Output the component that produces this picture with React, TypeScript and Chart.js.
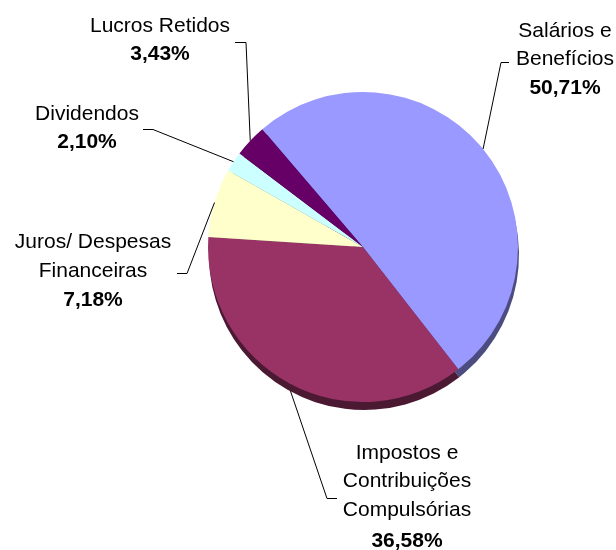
import React, { useEffect, useRef } from "react";
import { Chart, registerables } from "chart.js";

Chart.register(...registerables);

// ---- data ----
const categories = [
  "Salários e Benefícios",
  "Impostos e Contribuições Compulsórias",
  "Juros/ Despesas Financeiras",
  "Dividendos",
  "Lucros Retidos",
];
const values = [50.71, 36.58, 7.18, 2.1, 3.43];
const labelLines = [
  ["Salários e", "Benefícios"],
  ["Impostos e", "Contribuições", "Compulsórias"],
  ["Juros/ Despesas", "Financeiras"],
  ["Dividendos"],
  ["Lucros Retidos"],
];

// ---- styles ----
const faceColors = ["#9999FF", "#993366", "#FFFFCC", "#CCFFFF", "#660066"];
const sideColors = ["#4C4C80", "#4C1933", "#808066", "#668080", "#330033"];
const DEPTH_X = 1;
const DEPTH_Y = 8;
const FONT = "'Liberation Sans', Arial, sans-serif";
const FONT_SIZE = 21;

// label layout: text centre x, baselines of name lines, baseline of percent, leader elbow and tick end
const labelLayout = [
  { cx: 565, lines: [37, 65], pct: 94, elbow: [501, 62], tick: [509, 62] },
  { cx: 407, lines: [459, 487, 516], pct: 547, elbow: [327, 498], tick: [337, 498] },
  { cx: 93, lines: [248, 277], pct: 306, elbow: [187, 273], tick: [177, 273] },
  { cx: 87, lines: [120], pct: 148, elbow: [153, 129], tick: [143, 129] },
  { cx: 160, lines: [32], pct: 60, elbow: [246, 42], tick: [235, 42] },
];

const fmtPct = (v: number) => v.toFixed(2).replace(".", ",") + "%";

const depthPlugin = {
  id: "depth3d",
  beforeDatasetsDraw(chart: any) {
    const ctx = chart.ctx;
    const meta = chart.getDatasetMeta(0);
    ctx.save();
    meta.data.forEach((arc: any, i: number) => {
      const p = arc.getProps(["x", "y", "startAngle", "endAngle", "outerRadius"], true);
      ctx.beginPath();
      ctx.moveTo(p.x + DEPTH_X, p.y + DEPTH_Y);
      ctx.arc(p.x + DEPTH_X, p.y + DEPTH_Y, p.outerRadius, p.startAngle, p.endAngle);
      ctx.closePath();
      ctx.fillStyle = sideColors[i];
      ctx.fill();
    });
    ctx.restore();
  },
};

const labelPlugin = {
  id: "extLabels",
  afterDatasetsDraw(chart: any) {
    const ctx = chart.ctx;
    const meta = chart.getDatasetMeta(0);
    ctx.save();
    meta.data.forEach((arc: any, i: number) => {
      const p = arc.getProps(["x", "y", "startAngle", "endAngle", "outerRadius"], true);
      const mid = (p.startAngle + p.endAngle) / 2;
      const ax = p.x + Math.cos(mid) * p.outerRadius;
      const ay = p.y + Math.sin(mid) * p.outerRadius + DEPTH_Y * Math.max(0, Math.sin(mid));
      const L = labelLayout[i];
      ctx.beginPath();
      ctx.moveTo(L.tick[0], L.tick[1] + 0.5);
      ctx.lineTo(L.elbow[0], L.elbow[1] + 0.5);
      ctx.lineTo(ax, ay);
      ctx.strokeStyle = "#000000";
      ctx.lineWidth = 1;
      ctx.stroke();

      ctx.fillStyle = "#000000";
      ctx.textAlign = "center";
      ctx.textBaseline = "alphabetic";
      ctx.font = `${FONT_SIZE}px ${FONT}`;
      labelLines[i].forEach((t, k) => ctx.fillText(t, L.cx, L.lines[k]));
      ctx.font = `bold ${FONT_SIZE}px ${FONT}`;
      ctx.fillText(fmtPct(values[i]), L.cx, L.pct);
    });
    ctx.restore();
  },
};

export default function App() {
  const ref = useRef<HTMLCanvasElement | null>(null);
  useEffect(() => {
    if (!ref.current) return;
    const chart = new Chart(ref.current, {
      type: "pie",
      data: {
        labels: categories,
        datasets: [
          {
            data: values,
            backgroundColor: faceColors,
            borderWidth: 0,
          },
        ],
      },
      options: {
        responsive: false,
        animation: false,
        events: [],
        rotation: -40.5,
        layout: { padding: { left: 208, right: 98, top: 92, bottom: 148 } },
        plugins: {
          legend: { display: false },
          tooltip: { enabled: false },
        },
      },
      plugins: [depthPlugin, labelPlugin],
    });
    return () => chart.destroy();
  }, []);
  return (
    <div style={{ position: "fixed", left: 0, top: 0, width: 616, height: 550, background: "#ffffff" }}>
      <canvas ref={ref} width={616} height={550} style={{ display: "block" }} />
    </div>
  );
}
